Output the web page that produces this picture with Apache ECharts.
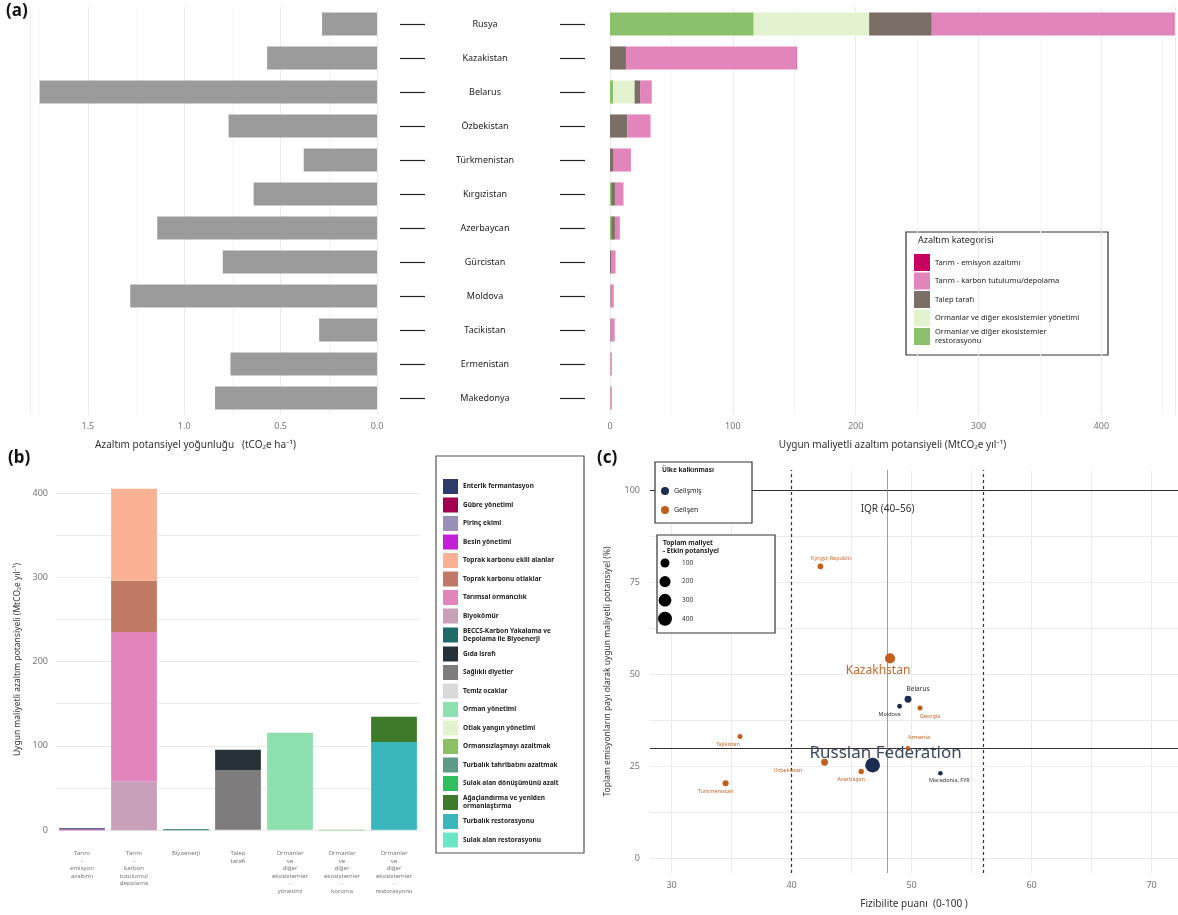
<!DOCTYPE html>
<html>
<head>
<meta charset="utf-8">
<script src="https://cdn.jsdelivr.net/npm/echarts@6/dist/echarts.min.js"></script>
<style>
html, body { margin: 0; background: #fff; }
#main { width: 1178px; height: 915px; }
</style>
</head>
<body>
<div id="main"></div>
<script>
// ---- (a) ulkeler
const countries = ['Rusya', 'Kazakistan', 'Belarus', 'Özbekistan', 'Türkmenistan', 'Kırgızistan',
    'Azerbaycan', 'Gürcistan', 'Moldova', 'Tacikistan', 'Ermenistan', 'Makedonya'];
const density = [0.285, 0.57, 1.75, 0.77, 0.38, 0.64, 1.14, 0.80, 1.28, 0.30, 0.76, 0.84];
// stack order left -> right
const aRestoration = [117, 0, 2.5, 0, 0, 1, 1, 0, 0, 0, 0, 0];
const aManagement = [94, 0, 17.5, 0, 0, 0, 0, 0, 0, 0, 0, 0];
const aDemand = [51, 13, 4.5, 14, 3, 3, 3, 0.8, 0.5, 0.5, 0.3, 0.3];
const aAgCarbon = [197, 139, 9.5, 19, 14, 7, 4, 3.7, 2.5, 3.3, 1.2, 1.2];
const aAgEmission = [0.5, 0.3, 0, 0, 0, 0, 0, 0, 0, 0, 0, 0];
const aNames = ['Tarım - emisyon azaltımı', 'Tarım - karbon tutulumu/depolama', 'Talep tarafı',
    'Ormanlar ve diğer ekosistemler yönetimi', 'Ormanlar ve diğer ekosistemler restorasyonu'];

// ---- (b) alt kategoriler
const bCats = ['Tarım\n-\nemisyon\nazaltımı', 'Tarım\n-\nkarbon\ntutulumu/\ndepolama', 'Biyoenerji',
    'Talep\ntarafı', 'Ormanlar\nve\ndiğer\nekosistemler\n-\nyönetimi',
    'Ormanlar\nve\ndiğer\nekosistemler\n-\nkoruma', 'Ormanlar\nve\ndiğer\nekosistemler\n-\nrestorasyonu'];
const enterik = [1.0, 0, 0, 0, 0, 0, 0];
const gubre = [0.4, 0, 0, 0, 0, 0, 0];
const pirinc = [0.2, 0, 0, 0, 0, 0, 0];
const besin = [0.6, 0, 0, 0, 0, 0, 0];
const toprakEkili = [0, 109, 0, 0, 0, 0, 0];
const toprakOtlak = [0, 61, 0, 0, 0, 0, 0];
const tarimsalOrm = [0, 177, 0, 0, 0, 0, 0];
const biyokomur = [0, 58, 0, 0, 0, 0, 0];
const beccs = [0, 0, 1, 0, 0, 0, 0];
const gida = [0, 0, 0, 24, 0, 0, 0];
const saglikli = [0, 0, 0, 71, 0, 0, 0];
const temizOcak = [0, 0, 0, 0.5, 0, 0, 0];
const ormanYon = [0, 0, 0, 0, 115, 0, 0];
const otlakYangin = [0, 0, 0, 0, 0.5, 0, 0];
const ormansizlasma = [0, 0, 0, 0, 0, 0.3, 0];
const turbalikTahrib = [0, 0, 0, 0, 0, 0.2, 0];
const sulakDonusum = [0, 0, 0, 0, 0, 0.1, 0];
const agaclandirma = [0, 0, 0, 0, 0, 0, 30];
const turbalikRest = [0, 0, 0, 0, 0, 0, 104];
const sulakRest = [0, 0, 0, 0, 0, 0, 0.5];

// ---- (c) fizibilite
const cNames = ['Kyrgyz Republic', 'Kazakhstan', 'Belarus', 'Moldova', 'Georgia', 'Armenia',
    'Tajikistan', 'Russian Federation', 'Uzbekistan', 'Azerbaijan', 'Macedonia, FYR', 'Turkmenistan'];
const cFeas = [42.4, 48.2, 49.7, 49.0, 50.7, 49.7, 35.7, 46.75, 42.75, 45.8, 52.4, 34.5];
const cShare = [79.3, 54.3, 43.2, 41.3, 40.8, 29.9, 33.1, 25.3, 26.1, 23.6, 23.1, 20.4];
const cTotal = [11, 152, 34, 3, 4.5, 1.5, 4, 459, 33, 8, 1.5, 17];
const cDeveloped = [false, false, true, true, false, false, false, true, false, false, true, false];
const hLines = [100, 30];
const iqr = [40, 56];
const median = 48;
const sizeSteps = [100, 200, 300, 400];

const gridGray = '#ececec';
const tickGray = '#777';
const dotSize = v => 4 + 0.5 * Math.sqrt(v);

const bParts = [
    ['Enterik fermantasyon', '#2e3a6a', enterik],
    ['Gübre yönetimi', '#a10050', gubre],
    ['Pirinç ekimi', '#9a8fb6', pirinc],
    ['Besin yönetimi', '#c41fd8', besin],
    ['Toprak karbonu ekili alanlar', '#fbb193', toprakEkili],
    ['Toprak karbonu otlaklar', '#c07a66', toprakOtlak],
    ['Tarımsal ormancılık', '#e385bd', tarimsalOrm],
    ['Biyokömür', '#c8a0ba', biyokomur],
    ['BECCS-Karbon Yakalama ve Depolama ile Biyoenerji', '#1e6b6a', beccs],
    ['Gıda israfı', '#263238', gida],
    ['Sağlıklı diyetler', '#7e7c7d', saglikli],
    ['Temiz ocaklar', '#d9d9d9', temizOcak],
    ['Orman yönetimi', '#8de0b0', ormanYon],
    ['Otlak yangın yönetimi', '#e2f2cf', otlakYangin],
    ['Ormansızlaşmayı azaltmak', '#8bc162', ormansizlasma],
    ['Turbalık tahribatını azaltmak', '#5f9a88', turbalikTahrib],
    ['Sulak alan dönüşümünü azalt', '#2fbf5f', sulakDonusum],
    ['Ağaçlandırma ve yeniden ormanlaştırma', '#3d7b2b', agaclandirma],
    ['Turbalık restorasyonu', '#3ab6bd', turbalikRest],
    ['Sulak alan restorasyonu', '#6be6c6', sulakRest]
];

const cLabel = {
    'Kyrgyz Republic': {position: 'top', offset: [11, 3]},
    'Kazakhstan': {position: 'bottom', offset: [-12, -4], fontSize: 12},
    'Belarus': {position: 'top', offset: [10, 2], fontSize: 6.5},
    'Moldova': {position: 'bottom', offset: [-10, -2]},
    'Georgia': {position: 'bottom', offset: [10, -2]},
    'Armenia': {position: 'top', offset: [11, 0]},
    'Tajikistan': {position: 'bottom', offset: [-12, -3]},
    'Russian Federation': {position: 'top', offset: [13, 9], fontSize: 17, color: '#3b4860'},
    'Uzbekistan': {position: 'left', offset: [-14, 8]},
    'Azerbaijan': {position: 'bottom', offset: [-10, -3]},
    'Macedonia, FYR': {position: 'bottom', offset: [9, -3]},
    'Turkmenistan': {position: 'bottom', offset: [-10, -3]}
};

function cPoints(dev) {
    const out = [];
    cNames.forEach((n, i) => {
        if (cDeveloped[i] !== dev) return;
        out.push({
            name: n,
            value: [cFeas[i], cShare[i], cTotal[i]],
            label: Object.assign({show: true}, cLabel[n])
        });
    });
    return out;
}

const chart = echarts.init(document.getElementById('main'));

const aStack = [
    [aNames[4], '#8bc16c', aRestoration],
    [aNames[3], '#e3f2cf', aManagement],
    [aNames[2], '#7b6e66', aDemand],
    [aNames[1], '#e285bb', aAgCarbon],
    [aNames[0], '#c8005f', aAgEmission]
].map(p => ({
    name: p[0], type: 'bar', stack: 'a', xAxisIndex: 2, yAxisIndex: 3,
    barWidth: '68%', itemStyle: {color: p[1]}, data: p[2]
}));

// ggplot bar stacking: first legend level on top, so reverse
const bSeries = bParts.slice().reverse().map(p => ({
    name: p[0], type: 'bar', stack: 'b', xAxisIndex: 3, yAxisIndex: 4,
    barCategoryGap: '12%', itemStyle: {color: p[1]}, data: p[2]
}));

const scatterBase = {
    type: 'scatter', xAxisIndex: 4, yAxisIndex: 5,
    symbolSize: v => dotSize(v[2])
};

chart.setOption({
    animation: false,
    textStyle: {fontFamily: 'Noto Sans'},
    grid: [
        {left: 30, top: 7, width: 347, height: 408},
        {left: 400, top: 7, width: 185, height: 408},
        {left: 610, top: 7, width: 565, height: 408},
        {left: 56, top: 472, width: 364, height: 375},
        {left: 650, top: 470, width: 528, height: 403}
    ],
    xAxis: [
        {
            gridIndex: 0, type: 'value', inverse: true, min: 0, max: 1.8, interval: 0.5,
            axisLine: {show: false}, axisTick: {show: false},
            axisLabel: {color: tickGray, fontSize: 9, margin: 7, showMaxLabel: false, formatter: v => v.toFixed(1)},
            splitLine: {lineStyle: {color: gridGray}},
            minorTick: {show: false, splitNumber: 2},
            minorSplitLine: {show: true, lineStyle: {color: '#f6f6f6'}},
            name: 'Azaltım potansiyel yoğunluğu   (tCO₂e ha⁻¹)', nameLocation: 'middle', nameGap: 25,
            nameTextStyle: {fontSize: 10, color: '#333', padding: [0, 16, 0, 0]}
        },
        {gridIndex: 1, type: 'value', min: 0, max: 1, show: false},
        {
            gridIndex: 2, type: 'value', min: 0, max: 460, interval: 100,
            axisLine: {show: false}, axisTick: {show: false},
            axisLabel: {color: tickGray, fontSize: 9, margin: 7, showMaxLabel: false},
            splitLine: {lineStyle: {color: gridGray}},
            minorTick: {show: false, splitNumber: 2},
            minorSplitLine: {show: true, lineStyle: {color: '#f6f6f6'}},
            name: 'Uygun maliyetli azaltım potansiyeli (MtCO₂e yıl⁻¹)', nameLocation: 'middle', nameGap: 25,
            nameTextStyle: {fontSize: 10, color: '#333'}
        },
        {
            gridIndex: 3, type: 'category', data: bCats,
            axisLine: {show: false}, axisTick: {show: false},
            axisLabel: {interval: 0, fontSize: 6, lineHeight: 7.5, color: tickGray, margin: 3}
        },
        {
            gridIndex: 4, type: 'value', min: 28.2, max: 72.2,
            axisLine: {show: false},
            axisTick: {show: false, customValues: [30, 35, 40, 45, 50, 55, 60, 65, 70]},
            axisLabel: {color: tickGray, fontSize: 9, margin: 8, customValues: [30, 40, 50, 60, 70]},
            splitLine: {lineStyle: {color: gridGray}},
            name: 'Fizibilite puanı  (0-100 )', nameLocation: 'middle', nameGap: 26,
            nameTextStyle: {fontSize: 10, color: '#333'}
        }
    ],
    yAxis: [
        {gridIndex: 0, type: 'category', inverse: true, data: countries, show: false},
        {
            gridIndex: 1, type: 'category', inverse: true, data: countries, position: 'left',
            axisLine: {show: false},
            axisTick: {show: true, inside: true, length: 25, alignWithLabel: true, lineStyle: {color: '#222', width: 1.2}},
            axisLabel: {inside: true, margin: 85, align: 'center', fontSize: 9, color: '#222'}
        },
        {
            gridIndex: 1, type: 'category', inverse: true, data: countries, position: 'right',
            axisLine: {show: false},
            axisTick: {show: true, inside: true, length: 25, alignWithLabel: true, lineStyle: {color: '#222', width: 1.2}},
            axisLabel: {show: false}
        },
        {gridIndex: 2, type: 'category', inverse: true, data: countries, show: false},
        {
            gridIndex: 3, type: 'value', min: -20, max: 425,
            axisLine: {show: false},
            axisTick: {show: false, customValues: [0, 50, 100, 150, 200, 250, 300, 350, 400]},
            axisLabel: {color: tickGray, fontSize: 9, margin: 8, customValues: [0, 100, 200, 300, 400]},
            splitLine: {lineStyle: {color: gridGray}},
            name: 'Uygun maliyetli azaltım potansiyeli (MtCO₂e yıl⁻¹)', nameLocation: 'middle', nameGap: 34,
            nameTextStyle: {fontSize: 8.5, color: '#333'}
        },
        {
            gridIndex: 4, type: 'value', min: -4, max: 105.5,
            axisLine: {show: false},
            axisTick: {show: false, customValues: [0, 12.5, 25, 37.5, 50, 62.5, 75, 87.5, 100]},
            axisLabel: {color: tickGray, fontSize: 9, margin: 10, customValues: [0, 25, 50, 75, 100]},
            splitLine: {lineStyle: {color: gridGray}},
            name: 'Toplam emisyonların payı olarak uygun maliyetli potansiyel (%)', nameLocation: 'middle', nameGap: 38,
            nameTextStyle: {fontSize: 8.5, color: '#333'}
        }
    ],
    legend: [
        {
            data: aNames, orient: 'vertical', left: 914, top: 254, padding: 0,
            itemWidth: 16, itemHeight: 17, itemGap: 1.5, icon: 'rect', selectedMode: false,
            textStyle: {fontSize: 7.5, color: '#222', width: 158, overflow: 'break', lineHeight: 8.5}
        },
        {
            data: bParts.map(p => p[0]), orient: 'vertical', left: 443, top: 479, padding: 0,
            itemWidth: 15, itemHeight: 15, itemGap: 3.5, icon: 'rect', selectedMode: false,
            textStyle: {fontSize: 6.5, fontWeight: 'bold', color: '#222', width: 119, overflow: 'break', lineHeight: 8}
        },
        {
            data: ['Gelişmiş', 'Gelişen'], orient: 'vertical', left: 661, top: 487, padding: 0, z: 60,
            itemWidth: 8, itemHeight: 8, itemGap: 11, icon: 'circle', selectedMode: false,
            textStyle: {fontSize: 7, color: '#222'}
        }
    ],
    graphic: [
        {type: 'text', left: 6, top: 3, style: {text: '(a)', font: 'bold 17px Noto Sans', fill: '#111'}},
        {type: 'text', left: 8, top: 450, style: {text: '(b)', font: 'bold 17px Noto Sans', fill: '#111'}},
        {type: 'text', left: 597, top: 450, style: {text: '(c)', font: 'bold 17px Noto Sans', fill: '#111'}},
        {type: 'rect', shape: {x: 906, y: 232, width: 202, height: 123}, style: {fill: 'none', stroke: '#333', lineWidth: 1.2}},
        {type: 'text', left: 918, top: 236, style: {text: 'Azaltım kategorisi', font: '9px Noto Sans', fill: '#222'}},
        {type: 'rect', shape: {x: 436, y: 456, width: 148, height: 397}, style: {fill: 'none', stroke: '#555', lineWidth: 1.2}},
        {type: 'rect', shape: {x: 655, y: 462, width: 97, height: 61}, style: {fill: '#fff', stroke: '#333', lineWidth: 1.2}, z: 50},
        {type: 'text', left: 662, top: 467, z: 51, style: {text: 'Ülke kalkınması', font: 'bold 6.5px Noto Sans', fill: '#222'}},
        {type: 'rect', shape: {x: 657, y: 535, width: 118, height: 98}, style: {fill: '#fff', stroke: '#333', lineWidth: 1.2}, z: 50},
        {type: 'text', left: 663, top: 539, z: 51, style: {text: 'Toplam maliyet\n- Etkin potansiyel', font: 'bold 6.5px Noto Sans', fill: '#222', lineHeight: 8}},
        ...sizeSteps.map((s, i) => ({
            type: 'circle', z: 51, shape: {cx: 665, cy: 563 + i * 18.6, r: dotSize(s) / 2}, style: {fill: '#000'}
        })),
        ...sizeSteps.map((s, i) => ({
            type: 'text', z: 51, x: 682, y: 563 + i * 18.6,
            style: {text: String(s), font: '6.5px Noto Sans', fill: '#333', verticalAlign: 'middle'}
        }))
    ],
    series: [
        {
            name: 'density', type: 'bar', xAxisIndex: 0, yAxisIndex: 0, barWidth: '68%',
            itemStyle: {color: '#9b9b9b'}, data: density
        },
        {
            name: 'labels', type: 'bar', xAxisIndex: 1, yAxisIndex: 1, data: countries.map(() => 0)
        },
        ...aStack,
        ...bSeries,
        Object.assign({}, scatterBase, {
            name: 'Gelişen', itemStyle: {color: '#c35f1c', opacity: 1},
            label: {formatter: '{b}', fontSize: 5.5, color: '#c8682c'},
            data: cPoints(false),
            markLine: {
                silent: true, symbol: 'none', label: {show: false}, z: 1,
                data: [
                    ...hLines.map(v => ({yAxis: v, lineStyle: {color: '#333', width: 1.2, type: 'solid'}})),
                    ...iqr.map(v => ({xAxis: v, lineStyle: {color: '#333', width: 1.2, type: [3, 3]}})),
                    {xAxis: median, lineStyle: {color: '#888', width: 0.8, type: 'solid'}}
                ]
            },
            markPoint: {
                silent: true, symbol: 'circle', symbolSize: 0,
                data: [{
                    coord: [median, 94.8],
                    label: {show: true, position: 'inside', formatter: 'IQR (' + iqr[0] + '–' + iqr[1] + ')', fontSize: 10, color: '#333'}
                }]
            }
        }),
        Object.assign({}, scatterBase, {
            name: 'Gelişmiş', itemStyle: {color: '#1c2d52', opacity: 1},
            label: {formatter: '{b}', fontSize: 5.5, color: '#333'},
            data: cPoints(true)
        })
    ]
});
</script>
</body>
</html>
